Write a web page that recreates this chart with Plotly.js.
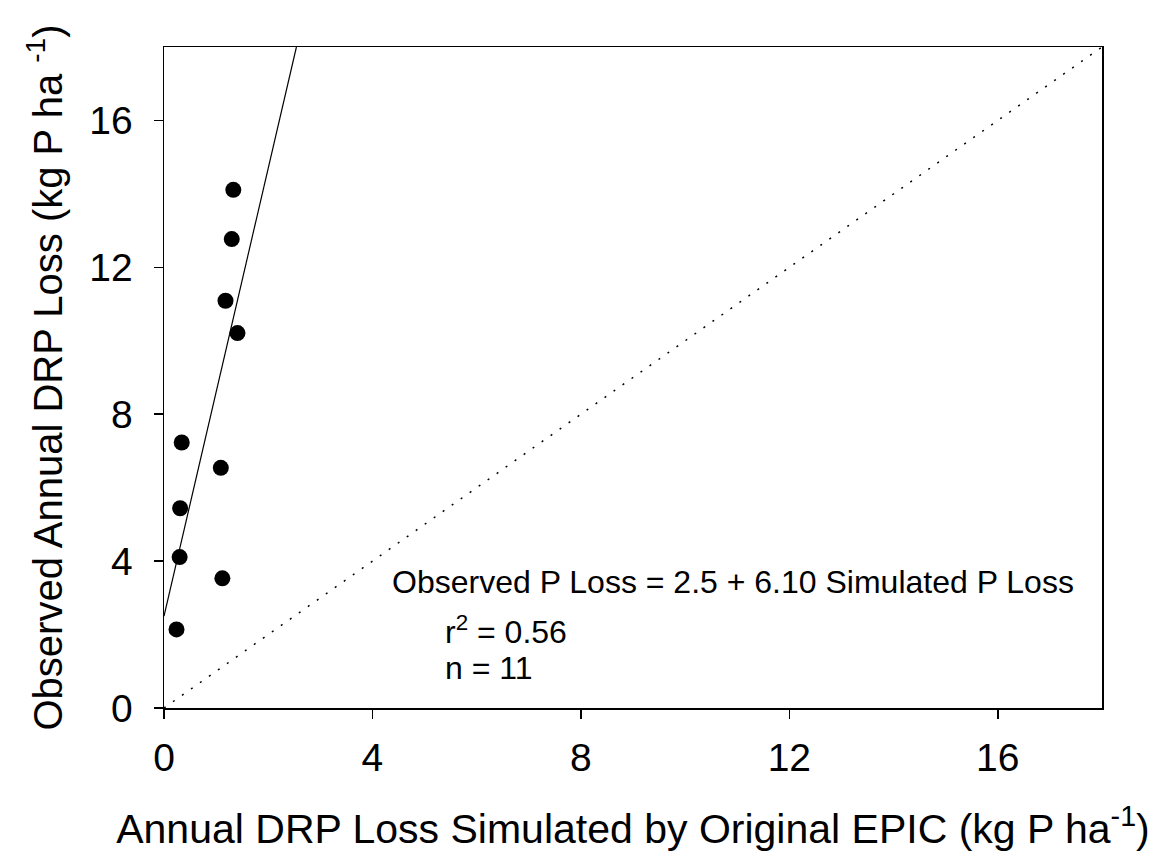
<!DOCTYPE html>
<html>
<head>
<meta charset="utf-8">
<script src="https://cdn.plot.ly/plotly-3.0.1.min.js"></script>
<style>html,body{margin:0;padding:0;background:#fff;}#chart{width:1174px;height:862px;}</style>
</head>
<body>
<div id="chart"></div>
<script>
// Simulated (original EPIC) vs observed annual DRP loss, kg P/ha
const simulated = [0.24, 0.30, 0.31, 0.34, 1.09, 1.12, 1.18, 1.33, 1.30, 1.41];
const observed  = [2.14, 4.11, 5.44, 7.23, 6.54, 3.53, 11.09, 14.11, 12.77, 10.21];
// Regression: Observed = intercept + slope * Simulated
const intercept = 2.5;
const slope = 6.10;
const axisMax = 18;
const tickVals = [0, 4, 8, 12, 16];

const fitX = [0, (axisMax - intercept) / slope];
const fitY = fitX.map(x => intercept + slope * x);

const font = "Liberation Sans, Arial, sans-serif";

const data = [
  {x: [0, axisMax], y: [0, axisMax], mode: 'lines', type: 'scatter',
   line: {color: '#000', width: 1.5, dash: '2px,9px'}, hoverinfo: 'skip'},
  {x: fitX, y: fitY, mode: 'lines', type: 'scatter',
   line: {color: '#000', width: 1.2}, hoverinfo: 'skip'},
  {x: simulated, y: observed, mode: 'markers', type: 'scatter',
   marker: {color: '#000', size: 16}, cliponaxis: false}
];

const axisCommon = {
  range: [0, axisMax], tickvals: tickVals, ticks: 'outside', ticklen: 9, tickwidth: 1.5,
  tickcolor: '#000', showline: true, linecolor: '#000', linewidth: 1.5, mirror: true,
  showgrid: false, zeroline: false, tickfont: {family: font, size: 39, color: '#000'}
};

const layout = {
  width: 1174, height: 862,
  margin: {l: 164, r: 72, t: 47, b: 154},
  paper_bgcolor: '#fff', plot_bgcolor: '#fff',
  showlegend: false,
  xaxis: Object.assign({}, axisCommon, {
    ticklabelstandoff: 6,
    title: {text: 'Annual DRP Loss Simulated by Original EPIC (kg P ha<sup>-1</sup>)',
            font: {family: font, size: 41, color: '#000'}, standoff: 36}
  }),
  yaxis: Object.assign({}, axisCommon, {
    ticklabelstandoff: 13,
    title: {text: 'Observed Annual DRP Loss (kg P ha <sup>-1</sup>)',
            font: {family: font, size: 40, color: '#000'}, standoff: 14}
  }),
  annotations: [
    {x: 4.33, y: 3.43, xref: 'x', yref: 'y', xanchor: 'left', yanchor: 'middle', showarrow: false,
     text: 'Observed P Loss = 2.5 + 6.10 Simulated P Loss', font: {family: font, size: 32, color: '#000'}},
    {x: 5.35, y: 2.12, xref: 'x', yref: 'y', xanchor: 'left', yanchor: 'middle', showarrow: false,
     text: 'r<sup>2</sup> = 0.56', font: {family: font, size: 32, color: '#000'}},
    {x: 5.35, y: 1.08, xref: 'x', yref: 'y', xanchor: 'left', yanchor: 'middle', showarrow: false,
     text: 'n = 11', font: {family: font, size: 32, color: '#000'}}
  ]
};

Plotly.newPlot('chart', data, layout, {displayModeBar: false, staticPlot: true});
</script>
</body>
</html>
